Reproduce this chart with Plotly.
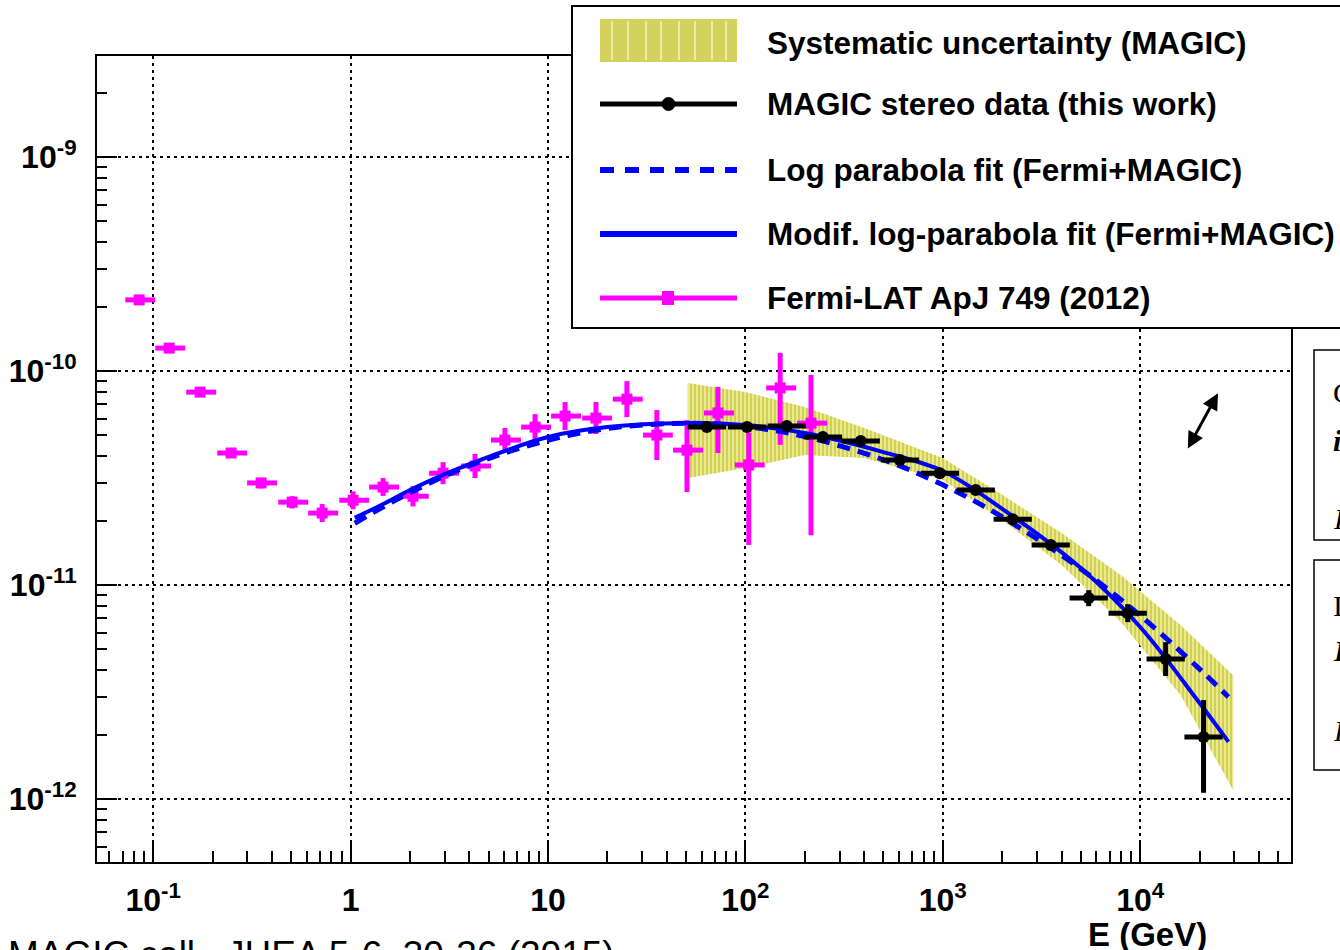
import plotly.graph_objects as go
import math

# ---------------- data ----------------
fermi_e = [0.0849, 0.1205, 0.173, 0.248, 0.352, 0.506, 0.718, 1.03, 1.46, 2.07, 2.94, 4.27,
           6.05, 8.6, 12.2, 17.5, 25.1, 35.6, 50.6, 72.6, 104, 150, 215]
fermi_e_lo = [0.0722, 0.1024, 0.147, 0.211, 0.299, 0.430, 0.610, 0.876, 1.241, 1.76, 2.50, 3.63,
              5.14, 7.31, 10.37, 14.9, 21.3, 30.3, 43.0, 61.7, 88.4, 127.5, 182.8]
fermi_e_hi = [0.1023, 0.1452, 0.2085, 0.299, 0.424, 0.610, 0.865, 1.241, 1.759, 2.49, 3.54, 5.15,
              7.29, 10.36, 14.70, 21.1, 30.2, 42.9, 61.0, 87.5, 125.3, 180.8, 259.1]
fermi_flux = [2.15e-10, 1.28e-10, 7.97e-11, 4.14e-11, 3.0e-11, 2.44e-11, 2.17e-11, 2.49e-11,
              2.87e-11, 2.6e-11, 3.33e-11, 3.6e-11, 4.76e-11, 5.47e-11, 6.16e-11, 6.03e-11,
              7.39e-11, 5.02e-11, 4.27e-11, 6.37e-11, 3.64e-11, 8.34e-11, 5.71e-11]
fermi_err_up = [0.07e-10, 0.04e-10, 0.26e-11, 0.18e-11, 0.17e-11, 0.16e-11, 0.22e-11, 0.25e-11,
                0.29e-11, 0.30e-11, 0.42e-11, 0.50e-11, 0.66e-11, 0.82e-11, 1.0e-11, 1.13e-11,
                1.58e-11, 1.55e-11, 1.63e-11, 2.06e-11, 1.50e-11, 3.81e-11, 3.86e-11]
fermi_err_dn = [0.07e-10, 0.04e-10, 0.26e-11, 0.18e-11, 0.17e-11, 0.16e-11, 0.20e-11, 0.23e-11,
                0.26e-11, 0.27e-11, 0.37e-11, 0.44e-11, 0.58e-11, 0.71e-11, 0.86e-11, 0.95e-11,
                1.30e-11, 1.18e-11, 1.55e-11, 2.23e-11, 2.10e-11, 3.82e-11, 4.00e-11]

magic_e = [63.8, 102, 162, 247, 384, 606, 966, 1469, 2261, 3522, 5485, 8644, 13460, 20940]
magic_e_lo = [51.0, 81.6, 129.6, 197.6, 307, 485, 773, 1175, 1809, 2818, 4388, 6915, 10770, 16750]
magic_e_hi = [79.8, 127.5, 202.5, 308.8, 480, 758, 1208, 1836, 2826, 4403, 6856, 10805, 16825, 26175]
magic_flux = [5.47e-11, 5.47e-11, 5.53e-11, 4.92e-11, 4.71e-11, 3.84e-11, 3.33e-11, 2.78e-11,
              2.03e-11, 1.54e-11, 8.69e-12, 7.39e-12, 4.51e-12, 1.95e-12]
magic_err_up = [0.18e-11, 0.18e-11, 0.18e-11, 0.16e-11, 0.15e-11, 0.12e-11, 0.15e-11, 0.12e-11,
                0.11e-11, 0.085e-11, 0.78e-12, 0.75e-12, 0.90e-12, 0.95e-12]
magic_err_dn = [0.18e-11, 0.18e-11, 0.18e-11, 0.16e-11, 0.15e-11, 0.12e-11, 0.15e-11, 0.12e-11,
                0.11e-11, 0.085e-11, 0.72e-12, 0.68e-12, 0.75e-12, 0.88e-12]

band_e = [51, 100, 200, 400, 1000, 2000, 4000, 8000, 16000, 29600]
band_hi = [8.79e-11, 7.98e-11, 6.79e-11, 5.42e-11, 3.92e-11, 2.64e-11, 1.75e-11, 1.11e-11, 6.50e-12, 3.79e-12]
band_lo = [3.16e-11, 3.52e-11, 4.05e-11, 3.92e-11, 3.10e-11, 2.01e-11, 1.24e-11, 6.71e-12, 3.06e-12, 1.10e-12]

fit_e = [1.05, 1.5, 2, 3, 5, 10, 20, 50, 100, 200, 500, 1000, 2000, 5000, 10000, 20000, 28000]
logpar_flux = [1.945e-11, 2.35e-11, 2.70e-11, 3.23e-11, 3.90e-11, 4.75e-11, 5.39e-11, 5.71e-11,
               5.50e-11, 4.94e-11, 3.85e-11, 2.94e-11, 2.08e-11, 1.19e-11, 7.20e-12, 4.05e-12, 3.00e-12]
modlogpar_flux = [2.06e-11, 2.42e-11, 2.78e-11, 3.30e-11, 3.97e-11, 4.92e-11, 5.47e-11, 5.71e-11,
                  5.59e-11, 5.13e-11, 4.18e-11, 3.41e-11, 2.27e-11, 1.20e-11, 6.37e-12, 2.81e-12, 1.85e-12]

x_tick_vals = [0.1, 1, 10, 100, 1000, 10000]
x_tick_text = ["10<sup>-1</sup>", "1", "10", "10<sup>2</sup>", "10<sup>3</sup>", "10<sup>4</sup>"]
y_tick_vals = [1e-12, 1e-11, 1e-10, 1e-9]
y_tick_text = ["10<sup>-12</sup>", "10<sup>-11</sup>", "10<sup>-10</sup>", "10<sup>-9</sup>"]

legend_labels = ["Systematic uncertainty (MAGIC)", "MAGIC stereo data (this work)",
                 "Log parabola fit (Fermi+MAGIC)", "Modif. log-parabola fit (Fermi+MAGIC)",
                 "Fermi-LAT ApJ 749 (2012)"]

# ---------------- layout helpers ----------------
W, H = 1340, 950
def X(px):
    return px / W
def Y(py):
    return 1 - py / H

FONT = "Liberation Sans, Arial, Helvetica, sans-serif"
MAGENTA = "#ff00ff"
BLUE = "#0000ff"

fig = go.Figure()

# systematic band
fig.add_trace(go.Scatter(
    x=band_e + band_e[::-1], y=band_hi + band_lo[::-1],
    fill="toself", mode="lines", line=dict(width=0, color="rgba(0,0,0,0)"),
    fillcolor="#e0e070",
    fillpattern=dict(shape="|", fgcolor="#b3b32a", bgcolor="#eaea8a", size=4, solidity=0.5),
    showlegend=False, hoverinfo="skip"))

# Fermi points
fig.add_trace(go.Scatter(
    x=fermi_e, y=fermi_flux, mode="markers",
    marker=dict(symbol="square", size=11, color=MAGENTA),
    error_x=dict(type="data", symmetric=False,
                 array=[h - e for h, e in zip(fermi_e_hi, fermi_e)],
                 arrayminus=[e - l for e, l in zip(fermi_e, fermi_e_lo)],
                 color=MAGENTA, thickness=5, width=0),
    error_y=dict(type="data", symmetric=False, array=fermi_err_up, arrayminus=fermi_err_dn,
                 color=MAGENTA, thickness=5, width=0),
    showlegend=False))

# fits
fig.add_trace(go.Scatter(x=fit_e, y=logpar_flux, mode="lines",
                         line=dict(color=BLUE, width=5, dash="13px,8px", shape="spline"),
                         showlegend=False))
fig.add_trace(go.Scatter(x=fit_e, y=modlogpar_flux, mode="lines",
                         line=dict(color=BLUE, width=4, shape="spline"),
                         showlegend=False))

# MAGIC points
fig.add_trace(go.Scatter(
    x=magic_e, y=magic_flux, mode="markers",
    marker=dict(symbol="circle", size=12, color="black"),
    error_x=dict(type="data", symmetric=False,
                 array=[h - e for h, e in zip(magic_e_hi, magic_e)],
                 arrayminus=[e - l for e, l in zip(magic_e, magic_e_lo)],
                 color="black", thickness=5, width=0),
    error_y=dict(type="data", symmetric=False, array=magic_err_up, arrayminus=magic_err_dn,
                 color="black", thickness=5, width=0),
    showlegend=False))

x_minor = [k * 10 ** d for d in range(-2, 5) for k in range(2, 10)]
y_minor = [k * 10 ** d for d in range(-13, -8) for k in range(2, 10)]

axis_common = dict(
    type="log", showline=True, linecolor="black", linewidth=2, mirror=True,
    ticks="inside", tickcolor="black", tickwidth=2,
    showgrid=True, gridcolor="black", gridwidth=1.5, griddash="3px,4px",
    zeroline=False, tickmode="array",
    tickfont=dict(family=FONT, size=32, color="black", weight="bold"),
)

fig.update_layout(
    width=W, height=H, autosize=False,
    margin=dict(l=0, r=0, t=0, b=0),
    paper_bgcolor="white", plot_bgcolor="white",
    showlegend=False,
    xaxis=dict(axis_common, domain=[X(97), X(1291)], range=[-1.2847, 4.764],
               tickvals=x_tick_vals, ticktext=x_tick_text, ticklen=22, ticklabelstandoff=9,
               minor=dict(tickmode="array", tickvals=x_minor, ticks="inside", ticklen=11,
                          tickwidth=2, tickcolor="black", showgrid=False)),
    yaxis=dict(axis_common, domain=[Y(862), Y(56)], range=[-12.294, -8.528],
               tickvals=y_tick_vals, ticktext=y_tick_text, ticklen=20, ticklabelstandoff=12,
               minor=dict(tickmode="array", tickvals=y_minor, ticks="inside", ticklen=10,
                          tickwidth=2, tickcolor="black", showgrid=False)),
)

shapes = []
annotations = []

# legend box
shapes.append(dict(type="rect", xref="paper", yref="paper", x0=X(572), x1=X(1348), y0=Y(328), y1=Y(6),
                   fillcolor="white", line=dict(color="black", width=2), layer="above"))
# swatch: systematic band
shapes.append(dict(type="rect", xref="paper", yref="paper", x0=X(600), x1=X(737), y0=Y(62), y1=Y(19),
                   fillcolor="#d2d25c", line=dict(width=0), layer="above"))
for sx in [612, 628, 646, 661, 679, 695, 712, 726]:
    shapes.append(dict(type="line", xref="paper", yref="paper", x0=X(sx), x1=X(sx), y0=Y(60), y1=Y(21),
                       line=dict(color="#f4f4c0", width=1.5), layer="above"))
# MAGIC sample
shapes.append(dict(type="line", xref="paper", yref="paper", x0=X(600), x1=X(737), y0=Y(104), y1=Y(104),
                   line=dict(color="black", width=5), layer="above"))
shapes.append(dict(type="circle", xref="paper", yref="paper", x0=X(662), x1=X(675), y0=Y(110.5), y1=Y(97.5),
                   fillcolor="black", line=dict(color="black", width=1), layer="above"))
# dashed fit sample
shapes.append(dict(type="line", xref="paper", yref="paper", x0=X(600), x1=X(737), y0=Y(170), y1=Y(170),
                   line=dict(color=BLUE, width=6, dash="14px,11px"), layer="above"))
# solid fit sample
shapes.append(dict(type="line", xref="paper", yref="paper", x0=X(600), x1=X(737), y0=Y(234), y1=Y(234),
                   line=dict(color=BLUE, width=6), layer="above"))
# Fermi sample
shapes.append(dict(type="line", xref="paper", yref="paper", x0=X(600), x1=X(737), y0=Y(298), y1=Y(298),
                   line=dict(color=MAGENTA, width=5), layer="above"))
shapes.append(dict(type="rect", xref="paper", yref="paper", x0=X(662), x1=X(674), y0=Y(305), y1=Y(291),
                   fillcolor=MAGENTA, line=dict(width=0), layer="above"))

for lab, ly in zip(legend_labels, [43, 104, 170, 234, 298]):
    annotations.append(dict(text=lab, xref="paper", yref="paper", x=X(765), y=Y(ly),
                            xanchor="left", yanchor="middle", showarrow=False,
                            font=dict(family=FONT, size=31.5, color="black", weight="bold")))

# partial boxes on the right edge
shapes.append(dict(type="rect", xref="paper", yref="paper", x0=X(1314), x1=X(1350), y0=Y(540), y1=Y(350),
                   fillcolor="white", line=dict(color="black", width=1.5), layer="above"))
shapes.append(dict(type="rect", xref="paper", yref="paper", x0=X(1314), x1=X(1350), y0=Y(770), y1=Y(560),
                   fillcolor="white", line=dict(color="black", width=1.5), layer="above"))
for txt, ty, sty in [("C", 392, "normal"), ("i", 440, "bi"), ("F", 518, "i"),
                     ("I", 605, "normal"), ("I", 650, "bi"), ("F", 730, "i")]:
    annotations.append(dict(text=("<b><i>%s</i></b>" % txt) if sty == "bi" else (("<i>%s</i>" % txt) if sty == "i" else txt),
                            xref="paper", yref="paper", x=X(1331), y=Y(ty),
                            xanchor="left", yanchor="middle", showarrow=False,
                            font=dict(family="Liberation Serif, Times New Roman, serif", size=30, color="black")))

# axis label
annotations.append(dict(text="E (GeV)", xref="paper", yref="paper", x=X(1147), y=Y(934),
                        xanchor="center", yanchor="middle", showarrow=False,
                        font=dict(family=FONT, size=33, color="black", weight="bold")))
# reference footer (cut at the bottom edge)
annotations.append(dict(text="MAGIC coll., JHEA 5-6, 30-36 (2015)", xref="paper", yref="paper",
                        x=X(6), y=Y(932), xanchor="left", yanchor="top", showarrow=False,
                        font=dict(family=FONT, size=37, color="black")))
# double arrow
annotations.append(dict(x=math.log10(24780), y=math.log10(7.88e-11), ax=math.log10(17260), ay=math.log10(4.28e-11),
                        xref="x", yref="y", axref="x", ayref="y", text="", showarrow=True,
                        arrowside="end+start", arrowhead=2, startarrowhead=2,
                        arrowsize=1.1, startarrowsize=1.1, arrowwidth=3, arrowcolor="black"))

fig.update_layout(shapes=shapes, annotations=annotations)
fig.write_html("out.html")
